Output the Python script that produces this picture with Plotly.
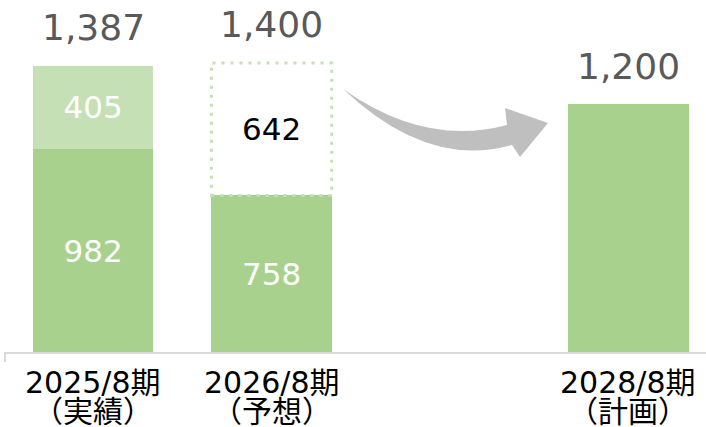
import plotly.graph_objects as go

# ---- data ----
x_pos = [0, 1, 3]
period_labels = ["2025/8期", "2026/8期", "2028/8期"]
period_sub = ["（実績）", "（予想）", "（計画）"]
base_values = [982, 758, 1200]
upper_values = [405, 642, None]
totals = [1387, 1400, 1200]

W, H = 706, 427
ML, MR, MT, MB = 5, 0, 0, 75
PW, PH = W - ML - MR, H - MT - MB

GREEN = "#a9d18e"
LIGHT = "#c5e0b4"
FONT = "DejaVu Sans, Noto Sans CJK JP"
BAR_W = 0.674

fig = go.Figure()
fig.add_trace(go.Bar(
    x=x_pos, y=base_values, width=BAR_W,
    marker=dict(color=GREEN, line=dict(width=0)),
    text=[f"{v:,}" for v in base_values[:2]] + [""],
    textposition="inside", insidetextanchor="middle", textangle=0,
    textfont=dict(size=31, color="white", family=FONT),
    hoverinfo="skip",
))
fig.add_trace(go.Bar(
    x=x_pos, y=upper_values, width=BAR_W,
    marker=dict(color=[LIGHT, "rgba(255,255,255,0)", LIGHT], line=dict(width=0)),
    text=[f"{v:,}" if v else "" for v in upper_values],
    textposition="inside", insidetextanchor="middle", textangle=0,
    textfont=dict(size=31, color=["white", "black", "white"], family=FONT),
    hoverinfo="skip",
))

# dotted outline around forecast segment
fig.add_shape(type="rect", xref="x", yref="y",
              x0=x_pos[1] - BAR_W / 2, x1=x_pos[1] + BAR_W / 2,
              y0=base_values[1], y1=base_values[1] + upper_values[1],
              line=dict(color=LIGHT, width=3, dash="3px,6px"),
              fillcolor="rgba(0,0,0,0)", layer="above")

# totals
for xp, t in zip(x_pos, totals):
    fig.add_annotation(x=xp, y=t, text=f"{t:,}", showarrow=False,
                       yanchor="middle", yshift=38,
                       font=dict(size=36, color="#595959", family=FONT))

# category labels (two lines)
def py(pix):
    return (H - MB - pix) / PH

for xp, l1, l2 in zip(x_pos, period_labels, period_sub):
    fig.add_annotation(x=xp, y=py(382), yref="paper", text=l1, showarrow=False,
                       yanchor="middle", height=30, valign="middle",
                       font=dict(size=30, color="black", family=FONT))
    fig.add_annotation(x=xp, y=py(411), yref="paper", text=l2, showarrow=False,
                       yanchor="middle", height=30, valign="middle",
                       font=dict(size=30, color="black", family=FONT))

# left tick
fig.add_shape(type="line", xref="paper", yref="paper", x0=0, x1=0,
              y0=0, y1=py(362), line=dict(color="#d9d9d9", width=2))

# curved arrow (decoration, pixel-designed)
def P(x, y):
    return f"{(x - ML) / PW:.4f},{py(y):.4f}"

path = (f"M {P(343,89)} Q {P(425,147)} {P(507,125)} L {P(505,108)} L {P(548,123)} "
        f"L {P(520,157)} L {P(512,145)} Q {P(428,169)} {P(343,89)} Z")
fig.add_shape(type="path", xref="paper", yref="paper", path=path,
              fillcolor="#bfbfbf", line=dict(width=0))

fig.update_layout(
    width=W, height=H, margin=dict(l=ML, r=MR, t=MT, b=MB),
    barmode="stack", showlegend=False,
    plot_bgcolor="white", paper_bgcolor="white",
    xaxis=dict(range=[-0.494, 3.435], showline=True, linecolor="#d9d9d9", linewidth=2,
               showticklabels=False, ticks="", showgrid=False, zeroline=False),
    yaxis=dict(range=[0, PH / 0.2065], visible=False),
    font=dict(family=FONT),
)
fig.update_traces(cliponaxis=False)
fig.write_html("out.html", config={"displayModeBar": False},
               post_script="document.body.style.margin='0';document.body.style.overflow='hidden';")
